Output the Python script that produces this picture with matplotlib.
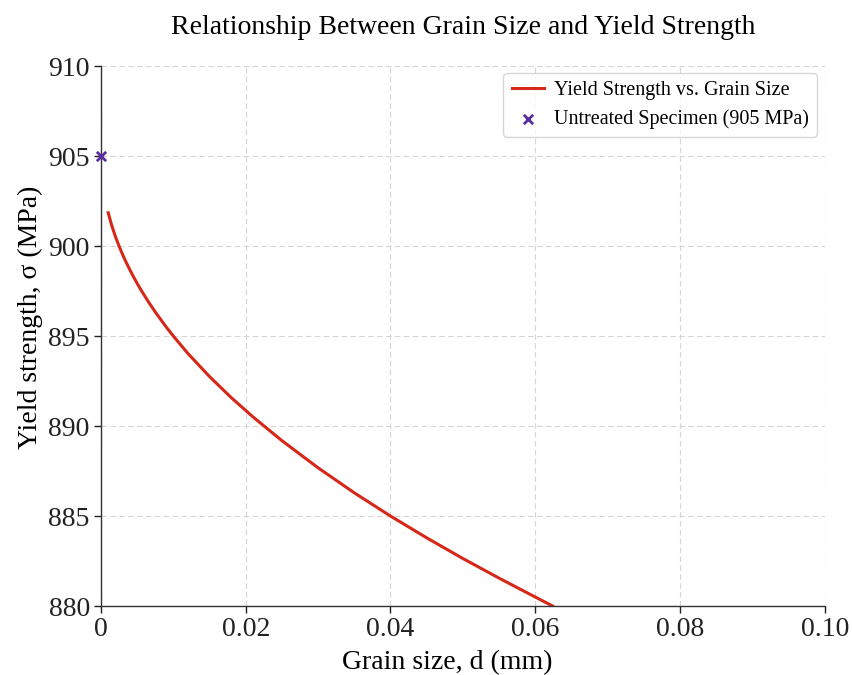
import numpy as np
import matplotlib.pyplot as plt

# =========================
# Data
# =========================

grain_size = [0.001, 0.0015, 0.002, 0.0025, 0.003, 0.0035, 0.004, 0.0045,
              0.005, 0.0055, 0.0065, 0.0075, 0.009, 0.010, 0.012, 0.015,
              0.018, 0.021, 0.025, 0.030, 0.035, 0.040, 0.045, 0.050,
              0.055, 0.060, 0.0624]
yield_strength = [901.85, 901.13, 900.53, 900.0, 899.52, 899.08, 898.68,
                  898.29, 897.93, 897.58, 896.94, 896.34, 895.51, 895.0,
                  894.04, 892.75, 891.58, 890.51, 889.19, 887.68, 886.29,
                  885.0, 883.79, 882.64, 881.55, 880.5, 880.0]

untreated_d = [0.0]
untreated_sigma = [905]

x_ticks = [0, 0.02, 0.04, 0.06, 0.08, 0.10]
x_tick_labels = ["0", "0.02", "0.04", "0.06", "0.08", "0.10"]
y_ticks = [880, 885, 890, 895, 900, 905, 910]

# =========================
# Plot
# =========================

plt.rcParams["font.family"] = ["Liberation Serif", "DejaVu Serif"]

fig = plt.figure(figsize=(8.52, 6.75), dpi=100)
ax = fig.add_axes([0.1185, 0.1022, 0.8495, 0.7998])

ax.plot(grain_size, yield_strength, color="#d62718", linewidth=2.2,
        label="Yield Strength vs. Grain Size")
ax.scatter(untreated_d, untreated_sigma, marker="x", color="#5b2c9f", s=45,
           linewidths=2, zorder=5, clip_on=False,
           label="Untreated Specimen (905 MPa)")

ax.set_xlim(0, 0.10)
ax.set_ylim(880, 910)
ax.set_xticks(x_ticks)
ax.set_xticklabels(x_tick_labels)
ax.set_yticks(y_ticks)

ax.tick_params(axis="both", direction="out", length=5, width=1,
               labelsize=20, colors="#222222", pad=3)
for side in ["top", "right"]:
    ax.spines[side].set_visible(False)
for side in ["left", "bottom"]:
    ax.spines[side].set_color("#333333")
    ax.spines[side].set_linewidth(1)

ax.grid(True, linestyle=(0, (5, 3)), color="#d5d5d5", linewidth=0.8)
ax.set_axisbelow(True)

ax.set_xlabel("Grain size, d (mm)", fontsize=20)
ax.xaxis.set_label_coords(0.479, -0.082)
ax.set_ylabel("Yield strength, σ (MPa)", fontsize=20)
ax.yaxis.set_label_coords(-0.080, 0.535)
ax.set_title("Relationship Between Grain Size and Yield Strength",
             fontsize=20, pad=23)

ax.legend(loc="upper right", fontsize=14.5, frameon=True, edgecolor="#cccccc",
          handlelength=1.6, borderpad=0.4, labelspacing=0.45,
          handletextpad=0.5, borderaxespad=0,
          bbox_to_anchor=(0.989, 0.987))

plt.savefig("out.png", dpi=100)
